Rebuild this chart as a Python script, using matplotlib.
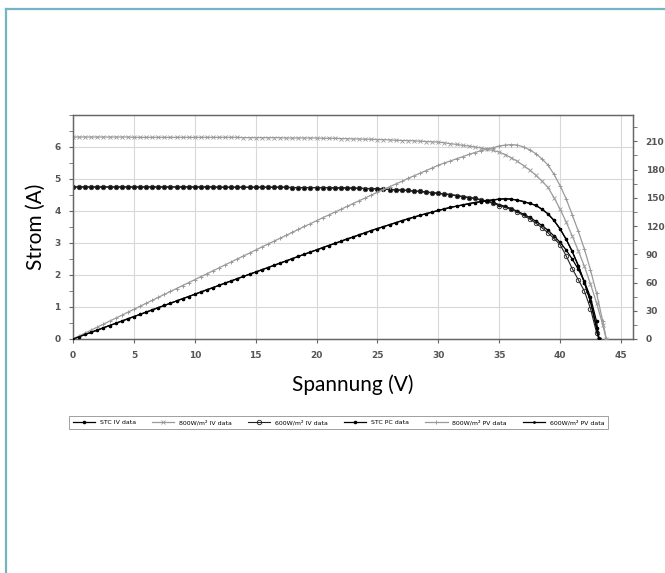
import numpy as np
import matplotlib
matplotlib.use('Agg')
import matplotlib.pyplot as plt
from matplotlib.lines import Line2D
from matplotlib.ticker import MultipleLocator

# voltage grids (V)
volt_black = list(np.arange(0, 43.01, 0.5)) + [43.2]
volt_gray = list(np.arange(0, 43.51, 0.5)) + [43.8]

# current (A)
iv_stc = [4.75, 4.75, 4.75, 4.75, 4.75, 4.75, 4.75, 4.75, 4.75, 4.75,
          4.75, 4.75, 4.75, 4.75, 4.75, 4.75, 4.75, 4.75, 4.75, 4.75,
          4.75, 4.75, 4.75, 4.75, 4.74, 4.74, 4.74, 4.74, 4.74, 4.74,
          4.74, 4.74, 4.74, 4.74, 4.74, 4.74, 4.73, 4.73, 4.73, 4.73,
          4.73, 4.73, 4.73, 4.72, 4.72, 4.72, 4.71, 4.71, 4.70, 4.70,
          4.69, 4.68, 4.67, 4.66, 4.65, 4.64, 4.62, 4.61, 4.59, 4.57,
          4.55, 4.53, 4.51, 4.48, 4.45, 4.42, 4.39, 4.35, 4.31, 4.26,
          4.20, 4.14, 4.07, 3.99, 3.90, 3.80, 3.68, 3.55, 3.40, 3.22,
          3.02, 2.78, 2.50, 2.18, 1.80, 1.30, 0.55, 0.0]
iv_600 = [4.75, 4.75, 4.75, 4.75, 4.75, 4.75, 4.75, 4.75, 4.75, 4.75,
          4.75, 4.75, 4.75, 4.75, 4.75, 4.75, 4.75, 4.75, 4.75, 4.75,
          4.75, 4.75, 4.75, 4.75, 4.74, 4.74, 4.74, 4.74, 4.74, 4.74,
          4.74, 4.74, 4.74, 4.74, 4.74, 4.74, 4.73, 4.73, 4.73, 4.73,
          4.73, 4.73, 4.73, 4.72, 4.72, 4.72, 4.71, 4.71, 4.70, 4.70,
          4.69, 4.68, 4.67, 4.66, 4.65, 4.64, 4.62, 4.61, 4.59, 4.57,
          4.55, 4.53, 4.51, 4.48, 4.45, 4.42, 4.39, 4.35, 4.30, 4.24,
          4.17, 4.11, 4.05, 3.96, 3.86, 3.75, 3.62, 3.48, 3.32, 3.14,
          2.95, 2.60, 2.20, 1.85, 1.50, 0.95, 0.20, 0.0]
iv_800 = [6.31, 6.31, 6.31, 6.31, 6.31, 6.31, 6.31, 6.31, 6.31, 6.31,
          6.30, 6.30, 6.30, 6.30, 6.30, 6.30, 6.30, 6.30, 6.30, 6.30,
          6.30, 6.30, 6.30, 6.30, 6.30, 6.30, 6.30, 6.30, 6.29, 6.29,
          6.29, 6.29, 6.29, 6.29, 6.29, 6.28, 6.28, 6.28, 6.28, 6.28,
          6.28, 6.27, 6.27, 6.27, 6.26, 6.26, 6.25, 6.25, 6.24, 6.24,
          6.23, 6.23, 6.22, 6.21, 6.20, 6.20, 6.19, 6.18, 6.17, 6.16,
          6.15, 6.13, 6.10, 6.08, 6.05, 6.03, 6.00, 5.97, 5.93, 5.89,
          5.84, 5.76, 5.66, 5.55, 5.42, 5.28, 5.12, 4.94, 4.74, 4.42,
          4.06, 3.66, 3.22, 2.76, 2.27, 1.72, 1.13, 0.45, 0.0]

# power (W)
pv_stc = [0, 2.4, 4.8, 7.1, 9.5, 11.9, 14.3, 16.6, 19.0, 21.4,
          23.8, 26.1, 28.5, 30.9, 33.3, 35.6, 38.0, 40.4, 42.8, 45.1,
          47.5, 49.9, 52.3, 54.6, 57.0, 59.4, 61.7, 64.1, 66.4, 68.8,
          71.1, 73.5, 75.8, 78.2, 80.6, 82.9, 85.3, 87.7, 90.0, 92.4,
          94.6, 97.0, 99.3, 101.5, 103.8, 106.2, 108.3, 110.7, 112.8, 115.2,
          117.3, 119.3, 121.4, 123.5, 125.6, 127.6, 129.4, 131.4, 133.1, 134.8,
          136.5, 138.2, 139.8, 141.1, 142.4, 143.7, 144.9, 145.9, 146.9, 147.8,
          148.5, 149.0, 148.5, 147.5, 146.0, 144.0, 142.0, 138.0, 133.0, 126.0,
          117.0, 106.0, 93.0, 78.0, 60.0, 40.0, 12.0, 0.0]
pv_600 = list(pv_stc)  # drawn on top of the STC power curve in the source
pv_800 = [0, 3.2, 6.3, 9.5, 12.6, 15.8, 18.9, 22.1, 25.2, 28.4,
          31.5, 34.7, 37.9, 41.0, 44.2, 47.3, 50.5, 53.6, 56.8, 59.9,
          63.0, 66.2, 69.3, 72.5, 75.6, 78.8, 81.9, 85.1, 88.2, 91.3,
          94.5, 97.7, 100.8, 103.9, 107.0, 110.1, 113.2, 116.4, 119.5, 122.5,
          125.6, 128.8, 131.7, 134.8, 137.7, 140.8, 143.8, 146.9, 149.8, 152.9,
          155.8, 158.9, 161.7, 164.6, 167.4, 170.5, 173.3, 176.1, 178.9, 181.7,
          184.5, 187.0, 189.1, 191.5, 193.6, 196.0, 198.0, 200.0, 201.6, 203.2,
          205.0, 206.0, 206.5, 206.0, 204.0, 201.0, 197.0, 191.5, 185.0, 175.0,
          163.0, 149.0, 132.0, 114.5, 95.5, 73.5, 48.5, 19.5, 0.0]

labels = ['STC IV data', '800W/m² IV data', '600W/m² IV data',
          'STC PC data', '800W/m² PV data', '600W/m² PV data']

fig = plt.figure(figsize=(6.65, 5.73), dpi=100)
ax = fig.add_axes([0.1098, 0.4084, 0.8422, 0.391])
ax2 = ax.twinx()

gray = '#9a9a9a'
h1, = ax.plot(volt_black, iv_stc, color='black', lw=0.9, marker='o', ms=1.6, zorder=3)
h2, = ax.plot(volt_gray, iv_800, color=gray, lw=0.9, marker='x', ms=2.2, mew=0.6, zorder=3)
h3, = ax.plot(volt_black, iv_600, color='#222222', lw=0.8, marker='o', ms=3.2, mfc='none', mew=0.6, zorder=4)
h4, = ax2.plot(volt_black, pv_stc, color='black', lw=0.9, marker='o', ms=1.6, zorder=3)
h5, = ax2.plot(volt_gray, pv_800, color=gray, lw=0.9, marker='+', ms=3, mew=0.7, zorder=3)
h6, = ax2.plot(volt_black, pv_600, color='black', lw=0.9, marker='.', ms=2, zorder=3)

ax.set_xlim(0, 46)
ax.set_ylim(0, 7)
ax2.set_ylim(0, 238)
ax.set_xticks(range(0, 46, 5))
ax.set_yticks(range(0, 7))
ax2.set_yticks(range(0, 211, 30))
ax.yaxis.set_minor_locator(MultipleLocator(0.5))
ax2.yaxis.set_minor_locator(MultipleLocator(15))
ax.grid(True, color='#d8d8d8', lw=0.8)
ax.set_axisbelow(True)

for t in ax.get_xticklabels() + ax.get_yticklabels() + ax2.get_yticklabels():
    t.set_fontfamily('DejaVu Sans')
    t.set_fontsize(6.5)
    t.set_fontweight('bold')
    t.set_color('#555555')
ax.tick_params(axis='both', which='both', length=3, color='#666666', pad=6)
ax2.tick_params(axis='y', which='both', length=3, color='#666666', pad=6)
for a in (ax, ax2):
    for s in a.spines.values():
        s.set_color('#666666')
        s.set_linewidth(0.9)

ax.set_xlabel('Spannung (V)', fontsize=15, family='Lato', labelpad=10)
ax.set_ylabel('Strom (A)', fontsize=15, family='Lato', labelpad=6)

leg = fig.legend([h1, h2, h3, h4, h5, h6], labels, loc='center',
                 bbox_to_anchor=(0.509, 0.263), ncol=6, fontsize=4.5,
                 frameon=True, fancybox=False, edgecolor='#888888',
                 handlelength=3.6, columnspacing=2.6, borderpad=0.6, handletextpad=0.7)
leg.get_frame().set_linewidth(0.7)

teal = '#74b5c4'
fig.add_artist(Line2D([6 / 665, 1], [1 - 9 / 573, 1 - 9 / 573], color=teal, lw=1.6))
fig.add_artist(Line2D([6 / 665, 6 / 665], [0, 1 - 9 / 573], color=teal, lw=1.6))

fig.savefig('out.png', dpi=100)
